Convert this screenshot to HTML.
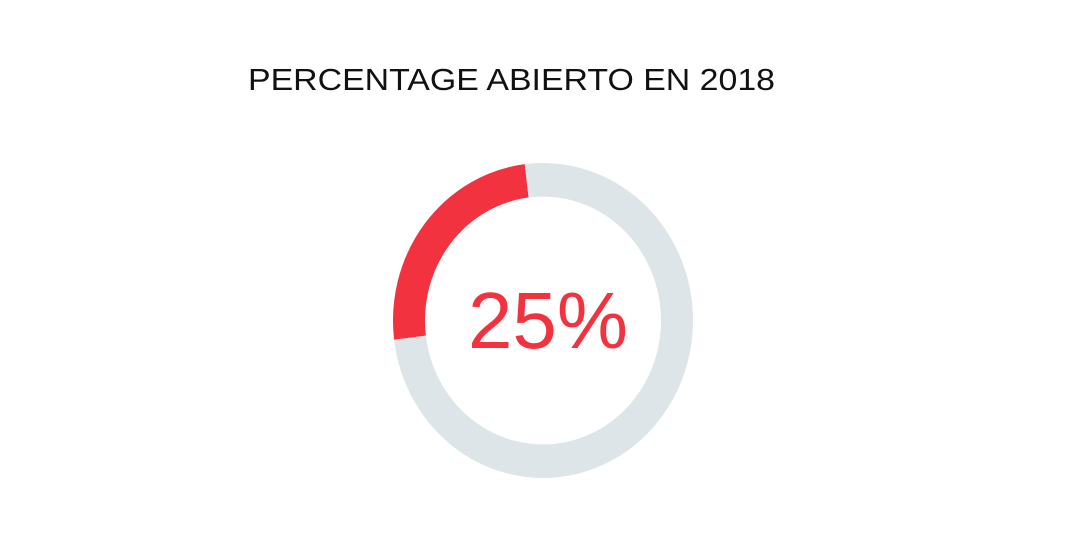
<!DOCTYPE html>
<html><head><meta charset="utf-8"><style>
body{margin:0;width:1080px;height:540px;background:#fff;overflow:hidden;font-family:"Liberation Sans",sans-serif}
</style></head><body>
<svg width="1080" height="540">
<text x="248" y="90" textLength="527" lengthAdjust="spacingAndGlyphs" font-size="31" fill="#111">PERCENTAGE ABIERTO EN 2018</text>
<g id="ring" transform="translate(543,320.5) scale(1,1.05) translate(-543,-320.5)"></g>
<text id="val" x="548" y="348" text-anchor="middle" font-size="80" fill="#f2333f"></text>
</svg>
<script>
const categories=["Abierto","Resto"];
const values=[25,75];
const cx=543,cy=320.5,r=134,w=32,offset=-7;
const ring=document.getElementById('ring');
const colors=["#f2333f","#dde5e8"];
const total=values.reduce((a,b)=>a+b,0);
function pt(a){const t=(a-90)*Math.PI/180;return [cx+r*Math.cos(t),cy+r*Math.sin(t)];}
let end=360+offset;
values.forEach((v,i)=>{
  const span=v/total*360;
  const start=end-span;
  const p1=pt(start),p2=pt(end);
  const p=document.createElementNS('http://www.w3.org/2000/svg','path');
  p.setAttribute('d',`M${p1[0]},${p1[1]} A${r},${r} 0 ${span>180?1:0} 1 ${p2[0]},${p2[1]}`);
  p.setAttribute('fill','none');p.setAttribute('stroke',colors[i]);p.setAttribute('stroke-width',w);
  
  
  ring.appendChild(p);
  end=start;
});
document.getElementById('val').textContent=values[0]+'%';
</script>
</body></html>
